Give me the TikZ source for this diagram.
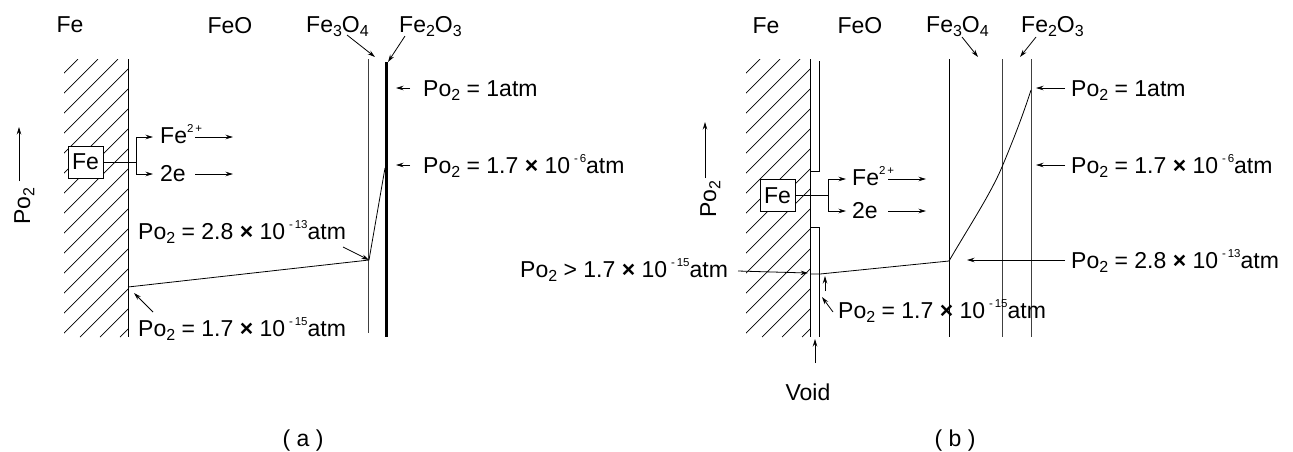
\documentclass[tikz,border=0pt]{standalone}
\usepackage{fontspec}
\setmainfont{Liberation Sans}
\usetikzlibrary{arrows.meta}
\newcommand{\myss}[1]{\raisebox{-0.35ex}{\fontsize{16}{16}\selectfont #1}}
\newcommand{\mysp}[1]{\raisebox{0.85ex}{\fontsize{11.5}{11.5}\selectfont #1}}
\newcommand{\POt}{Po\myss{2}}
\newcommand{\tms}{\textbf{×}}
\begin{document}
\begin{tikzpicture}[x=1pt,y=-1pt,
  lbl/.style={inner sep=0pt, anchor=base west},
  ctr/.style={inner sep=0pt, anchor=base},
  ln/.style={line width=0.9pt},
  arr/.style={line width=0.8pt, -{Stealth[length=7.5pt,width=4.5pt]}},
  hatchln/.style={line width=0.7pt},
  febox/.style={draw, fill=white, line width=0.9pt, minimum width=35pt, minimum height=32pt, inner sep=0pt},
  font=\fontsize{23}{27}\selectfont]
\useasboundingbox (0,0) rectangle (1293,451);

% ================= panel (a) =================
\begin{scope}
  \clip (64,59) rectangle (128,337);
  \foreach \c in {117,137,...,477} \draw[hatchln] (\c-337,337) -- (\c-59,59);
\end{scope}
\draw[ln] (128,59) -- (128,337);
\draw[ln, black!75] (368,59) -- (368,333);
\draw[line width=3pt] (386,62) -- (386,337);

\node[ctr] (aFe) at (70,32) {Fe};
\node[ctr] (aFeO) at (230,33) {FeO};
\node[lbl] (aFe3) at (306,32) {Fe\myss{3}O\myss{4}};
\node[lbl] (aFe2) at (399,32) {Fe\myss{2}O\myss{3}};
\coordinate (aFe3t) at (375,57);
\coordinate (aFe2t) at (388,62);
\draw[arr] (347,35) -- (aFe3t);
\draw[arr] (405,36) -- (aFe2t);

% profile
\coordinate (aP1) at (128,287);
\coordinate (aP2) at (369,260);
\coordinate (aP3) at (385,168);
\draw[line width=0.8pt] (aP1) -- (aP2) -- (aP3);

% Fe box
\node[febox] (aBox) at (85.5,162) {Fe};
\coordinate (aJ) at (136,162);
\coordinate (aJt) at (136,137);
\coordinate (aJb) at (136,174);
\draw[line width=0.8pt] (aBox.east) -- (aJ);
\draw[line width=0.8pt] (aJt) -- (aJb);
\draw[arr] (aJt) -- (153,137);
\draw[arr] (aJb) -- (153,174);
\node[lbl] (aFe2p) at (160,143) {Fe\mysp{2\,+}};
\node[lbl] (a2e) at (160,181) {2e};
\draw[arr] (195,137) -- (233,137);
\draw[arr] (195,174) -- (233,174);

% Po2 axis
\node[inner sep=0pt, anchor=base, rotate=90] (aPo) at (30,206) {\POt};
\draw[arr] (19,181) -- (19,127);

% labels
\node[lbl] (a1) at (423,96) {\POt{} = 1atm};
\node[lbl] (a2) at (423,173) {\POt{} = 1.7 \tms{} 10\,\mysp{-\,6}atm};
\node[lbl] (a3) at (138,239) {\POt{} = 2.8 \tms{} 10\,\mysp{-\,13}atm};
\node[lbl] (a4) at (138,336) {\POt{} = 1.7 \tms{} 10\,\mysp{-\,15}atm};
\draw[arr] (410,88) -- (396,88);
\draw[arr] (410,165) -- (396,165);
\draw[arr] (343,247) -- (aP2);
\draw[arr] (153,312) -- (134,293);

\node[ctr] (capA) at (303,446) {( a )};

% ================= panel (b) =================
\begin{scope}
  \clip (746,59) rectangle (810,337);
  \foreach \c in {117,137,...,477} \draw[hatchln] (\c-337+682,337) -- (\c-59+682,59);
\end{scope}
\draw[ln] (810,59) -- (810,337);
\draw[ln] (819,61) -- (819,171) -- (810,171);
\draw[ln] (810,227) -- (819,227) -- (819,337);
\draw[ln] (949,59) -- (949,337);
\draw[ln, black!75] (1002,59) -- (1002,337);
\draw[ln, black!75] (1031,59) -- (1031,337);

\node[ctr] (bFe) at (766,33) {Fe};
\node[ctr] (bFeO) at (860,33) {FeO};
\node[lbl] (bFe3) at (926,32) {Fe\myss{3}O\myss{4}};
\node[lbl] (bFe2) at (1021,32) {Fe\myss{2}O\myss{3}};
\draw[arr] (962,37) -- (978,57);
\draw[arr] (1036,37) -- (1020,57);

% profile
\coordinate (bP0) at (810,274);
\coordinate (bP1) at (820,274);
\coordinate (bP2) at (949,261);
\coordinate (bP3) at (1002,167);
\coordinate (bP4) at (1031,90);
\draw[line width=0.8pt] (bP0) -- (bP1) -- (bP2) .. controls (970,225) and (990,195) .. (bP3) .. controls (1012,143) and (1022,118) .. (bP4);

% Fe box
\node[febox] (bBox) at (777.5,195.5) {Fe};
\coordinate (bJ) at (828,195.5);
\coordinate (bJt) at (828,179);
\coordinate (bJb) at (828,211);
\draw[line width=0.8pt] (bBox.east) -- (bJ);
\draw[line width=0.8pt] (bJt) -- (bJb);
\draw[arr] (bJt) -- (846,179);
\draw[arr] (bJb) -- (846,211);
\node[lbl] (bFe2p) at (852,185) {Fe\mysp{2\,+}};
\node[lbl] (b2e) at (852,218) {2e};
\draw[arr] (888,179) -- (926,179);
\draw[arr] (888,211) -- (926,211);

% Po2 axis
\node[inner sep=0pt, anchor=base, rotate=90] (bPo) at (716,199) {\POt};
\draw[arr] (705,178) -- (705,122);

% labels
\node[lbl] (b1) at (1071,96) {\POt{} = 1atm};
\node[lbl] (b2) at (1071,173) {\POt{} = 1.7 \tms{} 10\,\mysp{-\,6}atm};
\node[lbl] (b3) at (1071,268) {\POt{} = 2.8 \tms{} 10\,\mysp{-\,13}atm};
\node[lbl] (b4) at (520,277) {\POt{} > 1.7 \tms{} 10\,\mysp{-\,15}atm};
\node[lbl] (b5) at (838,318) {\POt{} = 1.7 \tms{} 10\,\mysp{-\,15}atm};
\draw[arr] (1065,88) -- (1036,88);
\draw[arr] (1065,165) -- (1036,165);
\draw[arr] (1065,260) -- (967,260);
\draw[arr] (738,271) -- (808,273);
\draw[arr] (833,312) -- (822,297);
\draw[arr] (825,291) -- (825,276);
\node[ctr] (void) at (808,400) {Void};
\draw[arr] (815,363) -- (815,339);

\node[ctr] (capB) at (955,446) {( b )};
\end{tikzpicture}
\end{document}
